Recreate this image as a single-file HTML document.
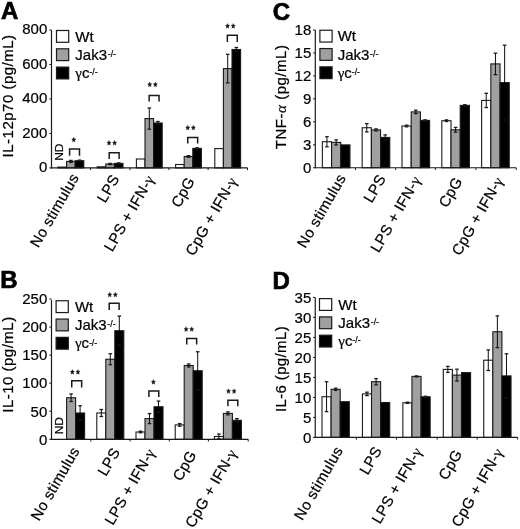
<!DOCTYPE html>
<html><head><meta charset="utf-8"><style>
html,body{margin:0;padding:0;background:#fff;width:520px;height:529px;overflow:hidden}
svg{display:block;filter:blur(0.3px)}
text{font-family:"Liberation Sans",sans-serif;fill:#000;stroke:#000;stroke-width:0.22px}
</style></head><body>
<svg width="520" height="529" viewBox="0 0 520 529">
<text transform="translate(1.00,18.80)" font-size="24" font-weight="bold" style="stroke-width:0.7px">A</text>
<rect x="58.00" y="167.10" width="8.60" height="0.80" fill="#ffffff" stroke="#1a1a1a" stroke-width="1.1"/>
<rect x="66.60" y="161.40" width="8.60" height="6.50" fill="#a0a0a0" stroke="#1a1a1a" stroke-width="1.1"/>
<rect x="75.20" y="160.70" width="8.60" height="7.20" fill="#000000" stroke="#1a1a1a" stroke-width="1.1"/>
<rect x="97.20" y="166.80" width="8.60" height="1.10" fill="#ffffff" stroke="#1a1a1a" stroke-width="1.1"/>
<rect x="105.80" y="164.00" width="8.60" height="3.90" fill="#a0a0a0" stroke="#1a1a1a" stroke-width="1.1"/>
<rect x="114.40" y="163.40" width="8.60" height="4.50" fill="#000000" stroke="#1a1a1a" stroke-width="1.1"/>
<rect x="136.40" y="159.00" width="8.60" height="8.90" fill="#ffffff" stroke="#1a1a1a" stroke-width="1.1"/>
<rect x="145.00" y="118.60" width="8.60" height="49.30" fill="#a0a0a0" stroke="#1a1a1a" stroke-width="1.1"/>
<rect x="153.60" y="123.00" width="8.60" height="44.90" fill="#000000" stroke="#1a1a1a" stroke-width="1.1"/>
<rect x="175.60" y="164.50" width="8.60" height="3.40" fill="#ffffff" stroke="#1a1a1a" stroke-width="1.1"/>
<rect x="184.20" y="156.50" width="8.60" height="11.40" fill="#a0a0a0" stroke="#1a1a1a" stroke-width="1.1"/>
<rect x="192.80" y="148.40" width="8.60" height="19.50" fill="#000000" stroke="#1a1a1a" stroke-width="1.1"/>
<rect x="214.80" y="148.60" width="8.60" height="19.30" fill="#ffffff" stroke="#1a1a1a" stroke-width="1.1"/>
<rect x="223.40" y="68.60" width="8.60" height="99.30" fill="#a0a0a0" stroke="#1a1a1a" stroke-width="1.1"/>
<rect x="232.00" y="49.50" width="8.60" height="118.40" fill="#000000" stroke="#1a1a1a" stroke-width="1.1"/>
<line x1="70.90" y1="160.40" x2="70.90" y2="162.40" stroke="#000" stroke-width="0.95"/>
<line x1="69.10" y1="160.40" x2="72.70" y2="160.40" stroke="#1a1a1a" stroke-width="1.3"/>
<line x1="69.10" y1="162.40" x2="72.70" y2="162.40" stroke="#1a1a1a" stroke-width="1.3"/>
<line x1="79.50" y1="160.10" x2="79.50" y2="161.30" stroke="#000" stroke-width="0.95"/>
<line x1="77.70" y1="160.10" x2="81.30" y2="160.10" stroke="#1a1a1a" stroke-width="1.3"/>
<line x1="77.70" y1="161.30" x2="81.30" y2="161.30" stroke="#1a1a1a" stroke-width="1.3"/>
<line x1="110.10" y1="163.40" x2="110.10" y2="164.60" stroke="#000" stroke-width="0.95"/>
<line x1="108.30" y1="163.40" x2="111.90" y2="163.40" stroke="#1a1a1a" stroke-width="1.3"/>
<line x1="108.30" y1="164.60" x2="111.90" y2="164.60" stroke="#1a1a1a" stroke-width="1.3"/>
<line x1="118.70" y1="162.90" x2="118.70" y2="163.90" stroke="#000" stroke-width="0.95"/>
<line x1="116.90" y1="162.90" x2="120.50" y2="162.90" stroke="#1a1a1a" stroke-width="1.3"/>
<line x1="116.90" y1="163.90" x2="120.50" y2="163.90" stroke="#1a1a1a" stroke-width="1.3"/>
<line x1="149.30" y1="108.00" x2="149.30" y2="129.20" stroke="#000" stroke-width="0.95"/>
<line x1="147.50" y1="108.00" x2="151.10" y2="108.00" stroke="#1a1a1a" stroke-width="1.3"/>
<line x1="147.50" y1="129.20" x2="151.10" y2="129.20" stroke="#1a1a1a" stroke-width="1.3"/>
<line x1="157.90" y1="121.50" x2="157.90" y2="124.50" stroke="#000" stroke-width="0.95"/>
<line x1="156.10" y1="121.50" x2="159.70" y2="121.50" stroke="#1a1a1a" stroke-width="1.3"/>
<line x1="156.10" y1="124.50" x2="159.70" y2="124.50" stroke="#1a1a1a" stroke-width="1.3"/>
<line x1="188.50" y1="155.70" x2="188.50" y2="157.30" stroke="#000" stroke-width="0.95"/>
<line x1="186.70" y1="155.70" x2="190.30" y2="155.70" stroke="#1a1a1a" stroke-width="1.3"/>
<line x1="186.70" y1="157.30" x2="190.30" y2="157.30" stroke="#1a1a1a" stroke-width="1.3"/>
<line x1="197.10" y1="147.80" x2="197.10" y2="149.00" stroke="#000" stroke-width="0.95"/>
<line x1="195.30" y1="147.80" x2="198.90" y2="147.80" stroke="#1a1a1a" stroke-width="1.3"/>
<line x1="195.30" y1="149.00" x2="198.90" y2="149.00" stroke="#1a1a1a" stroke-width="1.3"/>
<line x1="227.70" y1="54.30" x2="227.70" y2="82.90" stroke="#000" stroke-width="0.95"/>
<line x1="225.90" y1="54.30" x2="229.50" y2="54.30" stroke="#1a1a1a" stroke-width="1.3"/>
<line x1="225.90" y1="82.90" x2="229.50" y2="82.90" stroke="#1a1a1a" stroke-width="1.3"/>
<line x1="236.30" y1="47.50" x2="236.30" y2="51.50" stroke="#000" stroke-width="0.95"/>
<line x1="234.50" y1="47.50" x2="238.10" y2="47.50" stroke="#1a1a1a" stroke-width="1.3"/>
<line x1="234.50" y1="51.50" x2="238.10" y2="51.50" stroke="#1a1a1a" stroke-width="1.3"/>
<line x1="51.50" y1="30.00" x2="51.50" y2="168.50" stroke="#1a1a1a" stroke-width="1.2"/>
<line x1="50.90" y1="167.90" x2="247.50" y2="167.90" stroke="#1a1a1a" stroke-width="1.2"/>
<line x1="90.60" y1="167.90" x2="90.60" y2="170.10" stroke="#1a1a1a" stroke-width="1"/>
<line x1="130.00" y1="167.90" x2="130.00" y2="170.10" stroke="#1a1a1a" stroke-width="1"/>
<line x1="168.90" y1="167.90" x2="168.90" y2="170.10" stroke="#1a1a1a" stroke-width="1"/>
<line x1="208.10" y1="167.90" x2="208.10" y2="170.10" stroke="#1a1a1a" stroke-width="1"/>
<line x1="247.50" y1="167.90" x2="247.50" y2="170.10" stroke="#1a1a1a" stroke-width="1"/>
<line x1="49.30" y1="30.00" x2="51.50" y2="30.00" stroke="#1a1a1a" stroke-width="1"/>
<text transform="translate(47.30,34.10)" font-size="15" text-anchor="end">800</text>
<line x1="49.30" y1="64.48" x2="51.50" y2="64.48" stroke="#1a1a1a" stroke-width="1"/>
<text transform="translate(47.30,68.58)" font-size="15" text-anchor="end">600</text>
<line x1="49.30" y1="98.95" x2="51.50" y2="98.95" stroke="#1a1a1a" stroke-width="1"/>
<text transform="translate(47.30,103.05)" font-size="15" text-anchor="end">400</text>
<line x1="49.30" y1="133.43" x2="51.50" y2="133.43" stroke="#1a1a1a" stroke-width="1"/>
<text transform="translate(47.30,137.53)" font-size="15" text-anchor="end">200</text>
<line x1="49.30" y1="167.90" x2="51.50" y2="167.90" stroke="#1a1a1a" stroke-width="1"/>
<text transform="translate(47.30,172.00)" font-size="15" text-anchor="end">0</text>
<text transform="translate(13.20,157.40) rotate(-90)" font-size="15" letter-spacing="0.49">IL-12p70 (pg/mL)</text>
<rect x="56.50" y="30.50" width="12.2" height="11.8" fill="#ffffff" stroke="#1a1a1a" stroke-width="1.2"/>
<text transform="translate(75.30,41.60)" font-size="15">Wt</text>
<rect x="56.50" y="48.80" width="12.2" height="11.8" fill="#a0a0a0" stroke="#1a1a1a" stroke-width="1.2"/>
<text transform="translate(75.30,59.90)" font-size="15">Jak3</text>
<text transform="translate(107.70,57.00)" font-size="8.8">-/-</text>
<rect x="56.50" y="67.10" width="12.2" height="11.8" fill="#000000" stroke="#1a1a1a" stroke-width="1.2"/>
<text transform="translate(75.30,78.20)" font-size="15"><tspan style="font-family:&quot;Liberation Serif&quot;,serif">γ</tspan>c</text>
<text transform="translate(89.30,75.30)" font-size="8.8">-/-</text>
<path d="M69.60,155.70 V149.10 H79.50 V155.70" fill="none" stroke="#1a1a1a" stroke-width="1.5"/>
<polygon points="73.80,137.15 74.46,138.73 75.94,138.98 74.87,140.21 75.12,141.94 73.80,141.12 72.48,141.94 72.73,140.21 71.66,138.98 73.14,138.73" fill="#1a1a1a" stroke="#1a1a1a" stroke-width="0.3"/>
<path d="M109.20,159.10 V152.80 H119.10 V159.10" fill="none" stroke="#1a1a1a" stroke-width="1.5"/>
<polygon points="109.00,140.35 109.66,141.93 111.14,142.18 110.07,143.41 110.32,145.14 109.00,144.32 107.68,145.14 107.93,143.41 106.86,142.18 108.34,141.93" fill="#1a1a1a" stroke="#1a1a1a" stroke-width="0.3"/>
<polygon points="114.60,140.35 115.26,141.93 116.74,142.18 115.67,143.41 115.92,145.14 114.60,144.32 113.28,145.14 113.53,143.41 112.46,142.18 113.94,141.93" fill="#1a1a1a" stroke="#1a1a1a" stroke-width="0.3"/>
<path d="M149.15,101.50 V95.50 H159.05 V101.50" fill="none" stroke="#1a1a1a" stroke-width="1.5"/>
<polygon points="149.75,82.00 150.41,83.58 151.89,83.83 150.82,85.06 151.07,86.79 149.75,85.97 148.43,86.79 148.68,85.06 147.61,83.83 149.09,83.58" fill="#1a1a1a" stroke="#1a1a1a" stroke-width="0.3"/>
<polygon points="155.35,82.00 156.01,83.58 157.49,83.83 156.42,85.06 156.67,86.79 155.35,85.97 154.03,86.79 154.28,85.06 153.21,83.83 154.69,83.58" fill="#1a1a1a" stroke="#1a1a1a" stroke-width="0.3"/>
<path d="M187.75,143.40 V137.40 H197.65 V143.40" fill="none" stroke="#1a1a1a" stroke-width="1.5"/>
<polygon points="187.75,125.15 188.41,126.73 189.89,126.98 188.82,128.21 189.07,129.94 187.75,129.12 186.43,129.94 186.68,128.21 185.61,126.98 187.09,126.73" fill="#1a1a1a" stroke="#1a1a1a" stroke-width="0.3"/>
<polygon points="193.35,125.15 194.01,126.73 195.49,126.98 194.42,128.21 194.67,129.94 193.35,129.12 192.03,129.94 192.28,128.21 191.21,126.98 192.69,126.73" fill="#1a1a1a" stroke="#1a1a1a" stroke-width="0.3"/>
<path d="M227.35,41.95 V35.25 H237.25 V41.95" fill="none" stroke="#1a1a1a" stroke-width="1.5"/>
<polygon points="227.60,23.45 228.26,25.03 229.74,25.28 228.67,26.51 228.92,28.24 227.60,27.43 226.28,28.24 226.53,26.51 225.46,25.28 226.94,25.03" fill="#1a1a1a" stroke="#1a1a1a" stroke-width="0.3"/>
<polygon points="233.20,23.45 233.86,25.03 235.34,25.28 234.27,26.51 234.52,28.24 233.20,27.43 231.88,28.24 232.13,26.51 231.06,25.28 232.54,25.03" fill="#1a1a1a" stroke="#1a1a1a" stroke-width="0.3"/>
<text transform="translate(62.70,160.80) rotate(-90) scale(1,0.88)" font-size="12">ND</text>
<text transform="translate(38.30,248.50) rotate(-60)" font-size="15" letter-spacing="0.35">No stimulus</text>
<text transform="translate(105.30,203.80) rotate(-60)" font-size="15" letter-spacing="0.35">LPS</text>
<text transform="translate(112.30,252.60) rotate(-60)" font-size="15" letter-spacing="0.35">LPS + IFN-<tspan style="font-family:&quot;Liberation Serif&quot;,serif">γ</tspan></text>
<text transform="translate(179.40,208.40) rotate(-60)" font-size="15" letter-spacing="0.35">CpG</text>
<text transform="translate(193.80,256.70) rotate(-60)" font-size="15" letter-spacing="0.35">CpG + IFN-<tspan style="font-family:&quot;Liberation Serif&quot;,serif">γ</tspan></text>
<text transform="translate(0.30,288.10)" font-size="24" font-weight="bold" style="stroke-width:0.7px">B</text>
<rect x="66.60" y="397.75" width="9.00" height="41.55" fill="#a0a0a0" stroke="#1a1a1a" stroke-width="1.1"/>
<rect x="75.60" y="413.00" width="9.00" height="26.30" fill="#000000" stroke="#1a1a1a" stroke-width="1.1"/>
<rect x="96.80" y="413.00" width="9.00" height="26.30" fill="#ffffff" stroke="#1a1a1a" stroke-width="1.1"/>
<rect x="105.80" y="359.25" width="9.00" height="80.05" fill="#a0a0a0" stroke="#1a1a1a" stroke-width="1.1"/>
<rect x="114.80" y="330.75" width="9.00" height="108.55" fill="#000000" stroke="#1a1a1a" stroke-width="1.1"/>
<rect x="136.00" y="432.00" width="9.00" height="7.30" fill="#ffffff" stroke="#1a1a1a" stroke-width="1.1"/>
<rect x="145.00" y="418.60" width="9.00" height="20.70" fill="#a0a0a0" stroke="#1a1a1a" stroke-width="1.1"/>
<rect x="154.00" y="406.75" width="9.00" height="32.55" fill="#000000" stroke="#1a1a1a" stroke-width="1.1"/>
<rect x="175.20" y="424.90" width="9.00" height="14.40" fill="#ffffff" stroke="#1a1a1a" stroke-width="1.1"/>
<rect x="184.20" y="365.50" width="9.00" height="73.80" fill="#a0a0a0" stroke="#1a1a1a" stroke-width="1.1"/>
<rect x="193.20" y="370.75" width="9.00" height="68.55" fill="#000000" stroke="#1a1a1a" stroke-width="1.1"/>
<rect x="214.40" y="436.50" width="9.00" height="2.80" fill="#ffffff" stroke="#1a1a1a" stroke-width="1.1"/>
<rect x="223.40" y="413.40" width="9.00" height="25.90" fill="#a0a0a0" stroke="#1a1a1a" stroke-width="1.1"/>
<rect x="232.40" y="420.30" width="9.00" height="19.00" fill="#000000" stroke="#1a1a1a" stroke-width="1.1"/>
<line x1="71.10" y1="394.00" x2="71.10" y2="401.50" stroke="#000" stroke-width="0.95"/>
<line x1="69.30" y1="394.00" x2="72.90" y2="394.00" stroke="#1a1a1a" stroke-width="1.3"/>
<line x1="69.30" y1="401.50" x2="72.90" y2="401.50" stroke="#1a1a1a" stroke-width="1.3"/>
<line x1="80.10" y1="405.75" x2="80.10" y2="420.25" stroke="#000" stroke-width="0.95"/>
<line x1="78.30" y1="405.75" x2="81.90" y2="405.75" stroke="#1a1a1a" stroke-width="1.3"/>
<line x1="78.30" y1="420.25" x2="81.90" y2="420.25" stroke="#1a1a1a" stroke-width="1.3"/>
<line x1="101.30" y1="409.50" x2="101.30" y2="416.50" stroke="#000" stroke-width="0.95"/>
<line x1="99.50" y1="409.50" x2="103.10" y2="409.50" stroke="#1a1a1a" stroke-width="1.3"/>
<line x1="99.50" y1="416.50" x2="103.10" y2="416.50" stroke="#1a1a1a" stroke-width="1.3"/>
<line x1="110.30" y1="353.75" x2="110.30" y2="364.75" stroke="#000" stroke-width="0.95"/>
<line x1="108.50" y1="353.75" x2="112.10" y2="353.75" stroke="#1a1a1a" stroke-width="1.3"/>
<line x1="108.50" y1="364.75" x2="112.10" y2="364.75" stroke="#1a1a1a" stroke-width="1.3"/>
<line x1="119.30" y1="316.10" x2="119.30" y2="345.40" stroke="#000" stroke-width="0.95"/>
<line x1="117.50" y1="316.10" x2="121.10" y2="316.10" stroke="#1a1a1a" stroke-width="1.3"/>
<line x1="117.50" y1="345.40" x2="121.10" y2="345.40" stroke="#1a1a1a" stroke-width="1.3"/>
<line x1="140.50" y1="431.20" x2="140.50" y2="432.80" stroke="#000" stroke-width="0.95"/>
<line x1="138.70" y1="431.20" x2="142.30" y2="431.20" stroke="#1a1a1a" stroke-width="1.3"/>
<line x1="138.70" y1="432.80" x2="142.30" y2="432.80" stroke="#1a1a1a" stroke-width="1.3"/>
<line x1="149.50" y1="413.60" x2="149.50" y2="423.60" stroke="#000" stroke-width="0.95"/>
<line x1="147.70" y1="413.60" x2="151.30" y2="413.60" stroke="#1a1a1a" stroke-width="1.3"/>
<line x1="147.70" y1="423.60" x2="151.30" y2="423.60" stroke="#1a1a1a" stroke-width="1.3"/>
<line x1="158.50" y1="401.10" x2="158.50" y2="412.40" stroke="#000" stroke-width="0.95"/>
<line x1="156.70" y1="401.10" x2="160.30" y2="401.10" stroke="#1a1a1a" stroke-width="1.3"/>
<line x1="156.70" y1="412.40" x2="160.30" y2="412.40" stroke="#1a1a1a" stroke-width="1.3"/>
<line x1="179.70" y1="423.60" x2="179.70" y2="426.20" stroke="#000" stroke-width="0.95"/>
<line x1="177.90" y1="423.60" x2="181.50" y2="423.60" stroke="#1a1a1a" stroke-width="1.3"/>
<line x1="177.90" y1="426.20" x2="181.50" y2="426.20" stroke="#1a1a1a" stroke-width="1.3"/>
<line x1="188.70" y1="364.00" x2="188.70" y2="367.00" stroke="#000" stroke-width="0.95"/>
<line x1="186.90" y1="364.00" x2="190.50" y2="364.00" stroke="#1a1a1a" stroke-width="1.3"/>
<line x1="186.90" y1="367.00" x2="190.50" y2="367.00" stroke="#1a1a1a" stroke-width="1.3"/>
<line x1="197.70" y1="351.75" x2="197.70" y2="389.75" stroke="#000" stroke-width="0.95"/>
<line x1="195.90" y1="351.75" x2="199.50" y2="351.75" stroke="#1a1a1a" stroke-width="1.3"/>
<line x1="195.90" y1="389.75" x2="199.50" y2="389.75" stroke="#1a1a1a" stroke-width="1.3"/>
<line x1="218.90" y1="434.10" x2="218.90" y2="438.90" stroke="#000" stroke-width="0.95"/>
<line x1="217.10" y1="434.10" x2="220.70" y2="434.10" stroke="#1a1a1a" stroke-width="1.3"/>
<line x1="217.10" y1="438.90" x2="220.70" y2="438.90" stroke="#1a1a1a" stroke-width="1.3"/>
<line x1="227.90" y1="411.90" x2="227.90" y2="414.90" stroke="#000" stroke-width="0.95"/>
<line x1="226.10" y1="411.90" x2="229.70" y2="411.90" stroke="#1a1a1a" stroke-width="1.3"/>
<line x1="226.10" y1="414.90" x2="229.70" y2="414.90" stroke="#1a1a1a" stroke-width="1.3"/>
<line x1="236.90" y1="418.60" x2="236.90" y2="422.00" stroke="#000" stroke-width="0.95"/>
<line x1="235.10" y1="418.60" x2="238.70" y2="418.60" stroke="#1a1a1a" stroke-width="1.3"/>
<line x1="235.10" y1="422.00" x2="238.70" y2="422.00" stroke="#1a1a1a" stroke-width="1.3"/>
<line x1="51.50" y1="299.80" x2="51.50" y2="439.90" stroke="#1a1a1a" stroke-width="1.2"/>
<line x1="50.90" y1="439.30" x2="248.20" y2="439.30" stroke="#1a1a1a" stroke-width="1.2"/>
<line x1="90.80" y1="439.30" x2="90.80" y2="441.50" stroke="#1a1a1a" stroke-width="1"/>
<line x1="130.10" y1="439.30" x2="130.10" y2="441.50" stroke="#1a1a1a" stroke-width="1"/>
<line x1="169.30" y1="439.30" x2="169.30" y2="441.50" stroke="#1a1a1a" stroke-width="1"/>
<line x1="208.40" y1="439.30" x2="208.40" y2="441.50" stroke="#1a1a1a" stroke-width="1"/>
<line x1="248.20" y1="439.30" x2="248.20" y2="441.50" stroke="#1a1a1a" stroke-width="1"/>
<line x1="49.30" y1="299.00" x2="51.50" y2="299.00" stroke="#1a1a1a" stroke-width="1"/>
<text transform="translate(47.30,304.30)" font-size="15" text-anchor="end">250</text>
<line x1="49.30" y1="327.06" x2="51.50" y2="327.06" stroke="#1a1a1a" stroke-width="1"/>
<text transform="translate(47.30,332.36)" font-size="15" text-anchor="end">200</text>
<line x1="49.30" y1="355.12" x2="51.50" y2="355.12" stroke="#1a1a1a" stroke-width="1"/>
<text transform="translate(47.30,360.42)" font-size="15" text-anchor="end">150</text>
<line x1="49.30" y1="383.18" x2="51.50" y2="383.18" stroke="#1a1a1a" stroke-width="1"/>
<text transform="translate(47.30,388.48)" font-size="15" text-anchor="end">100</text>
<line x1="49.30" y1="411.24" x2="51.50" y2="411.24" stroke="#1a1a1a" stroke-width="1"/>
<text transform="translate(47.30,416.54)" font-size="15" text-anchor="end">50</text>
<line x1="49.30" y1="439.30" x2="51.50" y2="439.30" stroke="#1a1a1a" stroke-width="1"/>
<text transform="translate(47.30,444.60)" font-size="15" text-anchor="end">0</text>
<text transform="translate(13.20,412.70) rotate(-90)" font-size="15" letter-spacing="0.485">IL-10 (pg/mL)</text>
<rect x="56.10" y="300.75" width="12.2" height="11.8" fill="#ffffff" stroke="#1a1a1a" stroke-width="1.2"/>
<text transform="translate(74.90,311.85)" font-size="15">Wt</text>
<rect x="56.10" y="319.05" width="12.2" height="11.8" fill="#a0a0a0" stroke="#1a1a1a" stroke-width="1.2"/>
<text transform="translate(74.90,330.15)" font-size="15">Jak3</text>
<text transform="translate(107.30,327.25)" font-size="8.8">-/-</text>
<rect x="56.10" y="337.35" width="12.2" height="11.8" fill="#000000" stroke="#1a1a1a" stroke-width="1.2"/>
<text transform="translate(74.90,348.45)" font-size="15"><tspan style="font-family:&quot;Liberation Serif&quot;,serif">γ</tspan>c</text>
<text transform="translate(88.90,345.55)" font-size="8.8">-/-</text>
<path d="M71.75,387.40 V380.80 H81.65 V387.40" fill="none" stroke="#1a1a1a" stroke-width="1.5"/>
<polygon points="72.35,369.45 73.01,371.03 74.49,371.28 73.42,372.51 73.67,374.24 72.35,373.43 71.03,374.24 71.28,372.51 70.21,371.28 71.69,371.03" fill="#1a1a1a" stroke="#1a1a1a" stroke-width="0.3"/>
<polygon points="77.95,369.45 78.61,371.03 80.09,371.28 79.02,372.51 79.27,374.24 77.95,373.43 76.63,374.24 76.88,372.51 75.81,371.28 77.29,371.03" fill="#1a1a1a" stroke="#1a1a1a" stroke-width="0.3"/>
<path d="M109.20,310.10 V303.20 H119.10 V310.10" fill="none" stroke="#1a1a1a" stroke-width="1.5"/>
<polygon points="109.75,292.15 110.41,293.73 111.89,293.98 110.82,295.21 111.07,296.94 109.75,296.12 108.43,296.94 108.68,295.21 107.61,293.98 109.09,293.73" fill="#1a1a1a" stroke="#1a1a1a" stroke-width="0.3"/>
<polygon points="115.35,292.15 116.01,293.73 117.49,293.98 116.42,295.21 116.67,296.94 115.35,296.12 114.03,296.94 114.28,295.21 113.21,293.98 114.69,293.73" fill="#1a1a1a" stroke="#1a1a1a" stroke-width="0.3"/>
<path d="M148.90,397.10 V391.10 H158.80 V397.10" fill="none" stroke="#1a1a1a" stroke-width="1.5"/>
<polygon points="153.40,379.45 154.06,381.03 155.54,381.28 154.47,382.51 154.72,384.24 153.40,383.43 152.08,384.24 152.33,382.51 151.26,381.28 152.74,381.03" fill="#1a1a1a" stroke="#1a1a1a" stroke-width="0.3"/>
<path d="M186.75,344.50 V338.50 H196.65 V344.50" fill="none" stroke="#1a1a1a" stroke-width="1.5"/>
<polygon points="186.10,326.65 186.76,328.23 188.24,328.48 187.17,329.71 187.42,331.44 186.10,330.62 184.78,331.44 185.03,329.71 183.96,328.48 185.44,328.23" fill="#1a1a1a" stroke="#1a1a1a" stroke-width="0.3"/>
<polygon points="191.70,326.65 192.36,328.23 193.84,328.48 192.77,329.71 193.02,331.44 191.70,330.62 190.38,331.44 190.63,329.71 189.56,328.48 191.04,328.23" fill="#1a1a1a" stroke="#1a1a1a" stroke-width="0.3"/>
<path d="M227.90,406.20 V400.20 H237.80 V406.20" fill="none" stroke="#1a1a1a" stroke-width="1.5"/>
<polygon points="228.50,388.65 229.16,390.23 230.64,390.48 229.57,391.71 229.82,393.44 228.50,392.62 227.18,393.44 227.43,391.71 226.36,390.48 227.84,390.23" fill="#1a1a1a" stroke="#1a1a1a" stroke-width="0.3"/>
<polygon points="234.10,388.65 234.76,390.23 236.24,390.48 235.17,391.71 235.42,393.44 234.10,392.62 232.78,393.44 233.03,391.71 231.96,390.48 233.44,390.23" fill="#1a1a1a" stroke="#1a1a1a" stroke-width="0.3"/>
<text transform="translate(63.30,434.30) rotate(-90) scale(1,0.88)" font-size="12">ND</text>
<text transform="translate(39.00,521.80) rotate(-60)" font-size="15" letter-spacing="0.35">No stimulus</text>
<text transform="translate(106.00,477.00) rotate(-60)" font-size="15" letter-spacing="0.35">LPS</text>
<text transform="translate(113.00,526.10) rotate(-60)" font-size="15" letter-spacing="0.35">LPS + IFN-<tspan style="font-family:&quot;Liberation Serif&quot;,serif">γ</tspan></text>
<text transform="translate(181.00,482.00) rotate(-60)" font-size="15" letter-spacing="0.35">CpG</text>
<text transform="translate(193.50,528.70) rotate(-60)" font-size="15" letter-spacing="0.35">CpG + IFN-<tspan style="font-family:&quot;Liberation Serif&quot;,serif">γ</tspan></text>
<text transform="translate(272.80,19.60)" font-size="24" font-weight="bold" style="stroke-width:0.7px">C</text>
<rect x="322.36" y="141.75" width="9.20" height="26.00" fill="#ffffff" stroke="#1a1a1a" stroke-width="1.1"/>
<rect x="331.56" y="142.40" width="9.20" height="25.35" fill="#a0a0a0" stroke="#1a1a1a" stroke-width="1.1"/>
<rect x="340.76" y="144.90" width="9.20" height="22.85" fill="#000000" stroke="#1a1a1a" stroke-width="1.1"/>
<rect x="362.18" y="127.75" width="9.20" height="40.00" fill="#ffffff" stroke="#1a1a1a" stroke-width="1.1"/>
<rect x="371.38" y="129.90" width="9.20" height="37.85" fill="#a0a0a0" stroke="#1a1a1a" stroke-width="1.1"/>
<rect x="380.58" y="137.40" width="9.20" height="30.35" fill="#000000" stroke="#1a1a1a" stroke-width="1.1"/>
<rect x="402.00" y="126.00" width="9.20" height="41.75" fill="#ffffff" stroke="#1a1a1a" stroke-width="1.1"/>
<rect x="411.20" y="111.90" width="9.20" height="55.85" fill="#a0a0a0" stroke="#1a1a1a" stroke-width="1.1"/>
<rect x="420.40" y="120.40" width="9.20" height="47.35" fill="#000000" stroke="#1a1a1a" stroke-width="1.1"/>
<rect x="441.82" y="120.70" width="9.20" height="47.05" fill="#ffffff" stroke="#1a1a1a" stroke-width="1.1"/>
<rect x="451.02" y="129.80" width="9.20" height="37.95" fill="#a0a0a0" stroke="#1a1a1a" stroke-width="1.1"/>
<rect x="460.22" y="105.40" width="9.20" height="62.35" fill="#000000" stroke="#1a1a1a" stroke-width="1.1"/>
<rect x="481.64" y="100.40" width="9.20" height="67.35" fill="#ffffff" stroke="#1a1a1a" stroke-width="1.1"/>
<rect x="490.84" y="63.90" width="9.20" height="103.85" fill="#a0a0a0" stroke="#1a1a1a" stroke-width="1.1"/>
<rect x="500.04" y="82.60" width="9.20" height="85.15" fill="#000000" stroke="#1a1a1a" stroke-width="1.1"/>
<line x1="326.96" y1="136.75" x2="326.96" y2="146.75" stroke="#000" stroke-width="0.95"/>
<line x1="325.16" y1="136.75" x2="328.76" y2="136.75" stroke="#1a1a1a" stroke-width="1.3"/>
<line x1="325.16" y1="146.75" x2="328.76" y2="146.75" stroke="#1a1a1a" stroke-width="1.3"/>
<line x1="336.16" y1="139.90" x2="336.16" y2="144.90" stroke="#000" stroke-width="0.95"/>
<line x1="334.36" y1="139.90" x2="337.96" y2="139.90" stroke="#1a1a1a" stroke-width="1.3"/>
<line x1="334.36" y1="144.90" x2="337.96" y2="144.90" stroke="#1a1a1a" stroke-width="1.3"/>
<line x1="366.78" y1="123.60" x2="366.78" y2="131.90" stroke="#000" stroke-width="0.95"/>
<line x1="364.98" y1="123.60" x2="368.58" y2="123.60" stroke="#1a1a1a" stroke-width="1.3"/>
<line x1="364.98" y1="131.90" x2="368.58" y2="131.90" stroke="#1a1a1a" stroke-width="1.3"/>
<line x1="375.98" y1="128.90" x2="375.98" y2="130.90" stroke="#000" stroke-width="0.95"/>
<line x1="374.18" y1="128.90" x2="377.78" y2="128.90" stroke="#1a1a1a" stroke-width="1.3"/>
<line x1="374.18" y1="130.90" x2="377.78" y2="130.90" stroke="#1a1a1a" stroke-width="1.3"/>
<line x1="385.18" y1="134.90" x2="385.18" y2="139.90" stroke="#000" stroke-width="0.95"/>
<line x1="383.38" y1="134.90" x2="386.98" y2="134.90" stroke="#1a1a1a" stroke-width="1.3"/>
<line x1="383.38" y1="139.90" x2="386.98" y2="139.90" stroke="#1a1a1a" stroke-width="1.3"/>
<line x1="406.60" y1="125.20" x2="406.60" y2="126.80" stroke="#000" stroke-width="0.95"/>
<line x1="404.80" y1="125.20" x2="408.40" y2="125.20" stroke="#1a1a1a" stroke-width="1.3"/>
<line x1="404.80" y1="126.80" x2="408.40" y2="126.80" stroke="#1a1a1a" stroke-width="1.3"/>
<line x1="415.80" y1="110.15" x2="415.80" y2="113.65" stroke="#000" stroke-width="0.95"/>
<line x1="414.00" y1="110.15" x2="417.60" y2="110.15" stroke="#1a1a1a" stroke-width="1.3"/>
<line x1="414.00" y1="113.65" x2="417.60" y2="113.65" stroke="#1a1a1a" stroke-width="1.3"/>
<line x1="425.00" y1="119.80" x2="425.00" y2="121.00" stroke="#000" stroke-width="0.95"/>
<line x1="423.20" y1="119.80" x2="426.80" y2="119.80" stroke="#1a1a1a" stroke-width="1.3"/>
<line x1="423.20" y1="121.00" x2="426.80" y2="121.00" stroke="#1a1a1a" stroke-width="1.3"/>
<line x1="446.42" y1="119.90" x2="446.42" y2="121.50" stroke="#000" stroke-width="0.95"/>
<line x1="444.62" y1="119.90" x2="448.22" y2="119.90" stroke="#1a1a1a" stroke-width="1.3"/>
<line x1="444.62" y1="121.50" x2="448.22" y2="121.50" stroke="#1a1a1a" stroke-width="1.3"/>
<line x1="455.62" y1="127.40" x2="455.62" y2="132.20" stroke="#000" stroke-width="0.95"/>
<line x1="453.82" y1="127.40" x2="457.42" y2="127.40" stroke="#1a1a1a" stroke-width="1.3"/>
<line x1="453.82" y1="132.20" x2="457.42" y2="132.20" stroke="#1a1a1a" stroke-width="1.3"/>
<line x1="464.82" y1="104.70" x2="464.82" y2="106.10" stroke="#000" stroke-width="0.95"/>
<line x1="463.02" y1="104.70" x2="466.62" y2="104.70" stroke="#1a1a1a" stroke-width="1.3"/>
<line x1="463.02" y1="106.10" x2="466.62" y2="106.10" stroke="#1a1a1a" stroke-width="1.3"/>
<line x1="486.24" y1="93.30" x2="486.24" y2="107.50" stroke="#000" stroke-width="0.95"/>
<line x1="484.44" y1="93.30" x2="488.04" y2="93.30" stroke="#1a1a1a" stroke-width="1.3"/>
<line x1="484.44" y1="107.50" x2="488.04" y2="107.50" stroke="#1a1a1a" stroke-width="1.3"/>
<line x1="495.44" y1="53.15" x2="495.44" y2="74.65" stroke="#000" stroke-width="0.95"/>
<line x1="493.64" y1="53.15" x2="497.24" y2="53.15" stroke="#1a1a1a" stroke-width="1.3"/>
<line x1="493.64" y1="74.65" x2="497.24" y2="74.65" stroke="#1a1a1a" stroke-width="1.3"/>
<line x1="504.64" y1="45.20" x2="504.64" y2="120.00" stroke="#000" stroke-width="0.95"/>
<line x1="502.84" y1="45.20" x2="506.44" y2="45.20" stroke="#1a1a1a" stroke-width="1.3"/>
<line x1="502.84" y1="120.00" x2="506.44" y2="120.00" stroke="#1a1a1a" stroke-width="1.3"/>
<line x1="315.30" y1="30.00" x2="315.30" y2="168.35" stroke="#1a1a1a" stroke-width="1.2"/>
<line x1="314.70" y1="167.75" x2="516.20" y2="167.75" stroke="#1a1a1a" stroke-width="1.2"/>
<line x1="355.50" y1="167.75" x2="355.50" y2="169.95" stroke="#1a1a1a" stroke-width="1"/>
<line x1="395.60" y1="167.75" x2="395.60" y2="169.95" stroke="#1a1a1a" stroke-width="1"/>
<line x1="435.40" y1="167.75" x2="435.40" y2="169.95" stroke="#1a1a1a" stroke-width="1"/>
<line x1="475.90" y1="167.75" x2="475.90" y2="169.95" stroke="#1a1a1a" stroke-width="1"/>
<line x1="516.20" y1="167.75" x2="516.20" y2="169.95" stroke="#1a1a1a" stroke-width="1"/>
<line x1="313.10" y1="30.00" x2="315.30" y2="30.00" stroke="#1a1a1a" stroke-width="1"/>
<text transform="translate(311.30,35.30)" font-size="15" text-anchor="end">18</text>
<line x1="313.10" y1="52.96" x2="315.30" y2="52.96" stroke="#1a1a1a" stroke-width="1"/>
<text transform="translate(311.30,58.26)" font-size="15" text-anchor="end">15</text>
<line x1="313.10" y1="75.92" x2="315.30" y2="75.92" stroke="#1a1a1a" stroke-width="1"/>
<text transform="translate(311.30,81.22)" font-size="15" text-anchor="end">12</text>
<line x1="313.10" y1="98.88" x2="315.30" y2="98.88" stroke="#1a1a1a" stroke-width="1"/>
<text transform="translate(311.30,104.17)" font-size="15" text-anchor="end">9</text>
<line x1="313.10" y1="121.83" x2="315.30" y2="121.83" stroke="#1a1a1a" stroke-width="1"/>
<text transform="translate(311.30,127.13)" font-size="15" text-anchor="end">6</text>
<line x1="313.10" y1="144.79" x2="315.30" y2="144.79" stroke="#1a1a1a" stroke-width="1"/>
<text transform="translate(311.30,150.09)" font-size="15" text-anchor="end">3</text>
<line x1="313.10" y1="167.75" x2="315.30" y2="167.75" stroke="#1a1a1a" stroke-width="1"/>
<text transform="translate(311.30,173.05)" font-size="15" text-anchor="end">0</text>
<text transform="translate(285.80,149.20) rotate(-90)" font-size="15" letter-spacing="0.52">TNF-<tspan style="font-family:&quot;Liberation Serif&quot;,serif;font-style:italic">α</tspan> (pg/mL)</text>
<rect x="319.90" y="30.25" width="12.2" height="11.8" fill="#ffffff" stroke="#1a1a1a" stroke-width="1.2"/>
<text transform="translate(337.70,41.35)" font-size="15">Wt</text>
<rect x="319.90" y="48.55" width="12.2" height="11.8" fill="#a0a0a0" stroke="#1a1a1a" stroke-width="1.2"/>
<text transform="translate(337.70,59.65)" font-size="15">Jak3</text>
<text transform="translate(370.10,56.75)" font-size="8.8">-/-</text>
<rect x="319.90" y="66.85" width="12.2" height="11.8" fill="#000000" stroke="#1a1a1a" stroke-width="1.2"/>
<text transform="translate(337.70,77.95)" font-size="15"><tspan style="font-family:&quot;Liberation Serif&quot;,serif">γ</tspan>c</text>
<text transform="translate(351.70,75.05)" font-size="8.8">-/-</text>
<text transform="translate(305.30,249.00) rotate(-60)" font-size="15" letter-spacing="0.35">No stimulus</text>
<text transform="translate(371.80,203.70) rotate(-60)" font-size="15" letter-spacing="0.35">LPS</text>
<text transform="translate(378.70,253.50) rotate(-60)" font-size="15" letter-spacing="0.35">LPS + IFN-<tspan style="font-family:&quot;Liberation Serif&quot;,serif">γ</tspan></text>
<text transform="translate(447.00,208.50) rotate(-60)" font-size="15" letter-spacing="0.35">CpG</text>
<text transform="translate(460.00,256.50) rotate(-60)" font-size="15" letter-spacing="0.35">CpG + IFN-<tspan style="font-family:&quot;Liberation Serif&quot;,serif">γ</tspan></text>
<text transform="translate(272.40,288.50)" font-size="24" font-weight="bold" style="stroke-width:0.7px">D</text>
<rect x="322.00" y="396.70" width="9.10" height="40.70" fill="#ffffff" stroke="#1a1a1a" stroke-width="1.1"/>
<rect x="331.10" y="389.30" width="9.10" height="48.10" fill="#a0a0a0" stroke="#1a1a1a" stroke-width="1.1"/>
<rect x="340.20" y="401.70" width="9.10" height="35.70" fill="#000000" stroke="#1a1a1a" stroke-width="1.1"/>
<rect x="362.43" y="393.90" width="9.10" height="43.50" fill="#ffffff" stroke="#1a1a1a" stroke-width="1.1"/>
<rect x="371.53" y="381.70" width="9.10" height="55.70" fill="#a0a0a0" stroke="#1a1a1a" stroke-width="1.1"/>
<rect x="380.63" y="402.50" width="9.10" height="34.90" fill="#000000" stroke="#1a1a1a" stroke-width="1.1"/>
<rect x="402.86" y="402.80" width="9.10" height="34.60" fill="#ffffff" stroke="#1a1a1a" stroke-width="1.1"/>
<rect x="411.96" y="376.40" width="9.10" height="61.00" fill="#a0a0a0" stroke="#1a1a1a" stroke-width="1.1"/>
<rect x="421.06" y="396.80" width="9.10" height="40.60" fill="#000000" stroke="#1a1a1a" stroke-width="1.1"/>
<rect x="443.29" y="369.40" width="9.10" height="68.00" fill="#ffffff" stroke="#1a1a1a" stroke-width="1.1"/>
<rect x="452.39" y="375.10" width="9.10" height="62.30" fill="#a0a0a0" stroke="#1a1a1a" stroke-width="1.1"/>
<rect x="461.49" y="372.60" width="9.10" height="64.80" fill="#000000" stroke="#1a1a1a" stroke-width="1.1"/>
<rect x="483.72" y="360.20" width="9.10" height="77.20" fill="#ffffff" stroke="#1a1a1a" stroke-width="1.1"/>
<rect x="492.82" y="331.75" width="9.10" height="105.65" fill="#a0a0a0" stroke="#1a1a1a" stroke-width="1.1"/>
<rect x="501.92" y="375.90" width="9.10" height="61.50" fill="#000000" stroke="#1a1a1a" stroke-width="1.1"/>
<line x1="326.55" y1="381.80" x2="326.55" y2="411.60" stroke="#000" stroke-width="0.95"/>
<line x1="324.75" y1="381.80" x2="328.35" y2="381.80" stroke="#1a1a1a" stroke-width="1.3"/>
<line x1="324.75" y1="411.60" x2="328.35" y2="411.60" stroke="#1a1a1a" stroke-width="1.3"/>
<line x1="335.65" y1="388.20" x2="335.65" y2="390.40" stroke="#000" stroke-width="0.95"/>
<line x1="333.85" y1="388.20" x2="337.45" y2="388.20" stroke="#1a1a1a" stroke-width="1.3"/>
<line x1="333.85" y1="390.40" x2="337.45" y2="390.40" stroke="#1a1a1a" stroke-width="1.3"/>
<line x1="366.98" y1="392.20" x2="366.98" y2="395.60" stroke="#000" stroke-width="0.95"/>
<line x1="365.18" y1="392.20" x2="368.78" y2="392.20" stroke="#1a1a1a" stroke-width="1.3"/>
<line x1="365.18" y1="395.60" x2="368.78" y2="395.60" stroke="#1a1a1a" stroke-width="1.3"/>
<line x1="376.08" y1="378.60" x2="376.08" y2="384.80" stroke="#000" stroke-width="0.95"/>
<line x1="374.28" y1="378.60" x2="377.88" y2="378.60" stroke="#1a1a1a" stroke-width="1.3"/>
<line x1="374.28" y1="384.80" x2="377.88" y2="384.80" stroke="#1a1a1a" stroke-width="1.3"/>
<line x1="407.41" y1="402.20" x2="407.41" y2="403.40" stroke="#000" stroke-width="0.95"/>
<line x1="405.61" y1="402.20" x2="409.21" y2="402.20" stroke="#1a1a1a" stroke-width="1.3"/>
<line x1="405.61" y1="403.40" x2="409.21" y2="403.40" stroke="#1a1a1a" stroke-width="1.3"/>
<line x1="416.51" y1="375.90" x2="416.51" y2="376.90" stroke="#000" stroke-width="0.95"/>
<line x1="414.71" y1="375.90" x2="418.31" y2="375.90" stroke="#1a1a1a" stroke-width="1.3"/>
<line x1="414.71" y1="376.90" x2="418.31" y2="376.90" stroke="#1a1a1a" stroke-width="1.3"/>
<line x1="425.61" y1="396.30" x2="425.61" y2="397.30" stroke="#000" stroke-width="0.95"/>
<line x1="423.81" y1="396.30" x2="427.41" y2="396.30" stroke="#1a1a1a" stroke-width="1.3"/>
<line x1="423.81" y1="397.30" x2="427.41" y2="397.30" stroke="#1a1a1a" stroke-width="1.3"/>
<line x1="447.84" y1="366.40" x2="447.84" y2="372.40" stroke="#000" stroke-width="0.95"/>
<line x1="446.04" y1="366.40" x2="449.64" y2="366.40" stroke="#1a1a1a" stroke-width="1.3"/>
<line x1="446.04" y1="372.40" x2="449.64" y2="372.40" stroke="#1a1a1a" stroke-width="1.3"/>
<line x1="456.94" y1="369.20" x2="456.94" y2="381.00" stroke="#000" stroke-width="0.95"/>
<line x1="455.14" y1="369.20" x2="458.74" y2="369.20" stroke="#1a1a1a" stroke-width="1.3"/>
<line x1="455.14" y1="381.00" x2="458.74" y2="381.00" stroke="#1a1a1a" stroke-width="1.3"/>
<line x1="488.27" y1="349.90" x2="488.27" y2="370.50" stroke="#000" stroke-width="0.95"/>
<line x1="486.47" y1="349.90" x2="490.07" y2="349.90" stroke="#1a1a1a" stroke-width="1.3"/>
<line x1="486.47" y1="370.50" x2="490.07" y2="370.50" stroke="#1a1a1a" stroke-width="1.3"/>
<line x1="497.37" y1="315.90" x2="497.37" y2="347.60" stroke="#000" stroke-width="0.95"/>
<line x1="495.57" y1="315.90" x2="499.17" y2="315.90" stroke="#1a1a1a" stroke-width="1.3"/>
<line x1="495.57" y1="347.60" x2="499.17" y2="347.60" stroke="#1a1a1a" stroke-width="1.3"/>
<line x1="506.47" y1="353.80" x2="506.47" y2="398.00" stroke="#000" stroke-width="0.95"/>
<line x1="504.67" y1="353.80" x2="508.27" y2="353.80" stroke="#1a1a1a" stroke-width="1.3"/>
<line x1="504.67" y1="398.00" x2="508.27" y2="398.00" stroke="#1a1a1a" stroke-width="1.3"/>
<line x1="315.25" y1="297.50" x2="315.25" y2="438.00" stroke="#1a1a1a" stroke-width="1.2"/>
<line x1="314.65" y1="437.40" x2="517.60" y2="437.40" stroke="#1a1a1a" stroke-width="1.2"/>
<line x1="356.30" y1="437.40" x2="356.30" y2="439.60" stroke="#1a1a1a" stroke-width="1"/>
<line x1="396.50" y1="437.40" x2="396.50" y2="439.60" stroke="#1a1a1a" stroke-width="1"/>
<line x1="437.20" y1="437.40" x2="437.20" y2="439.60" stroke="#1a1a1a" stroke-width="1"/>
<line x1="477.20" y1="437.40" x2="477.20" y2="439.60" stroke="#1a1a1a" stroke-width="1"/>
<line x1="517.60" y1="437.40" x2="517.60" y2="439.60" stroke="#1a1a1a" stroke-width="1"/>
<line x1="313.05" y1="297.40" x2="315.25" y2="297.40" stroke="#1a1a1a" stroke-width="1"/>
<text transform="translate(311.30,302.70)" font-size="15" text-anchor="end">35</text>
<line x1="313.05" y1="317.40" x2="315.25" y2="317.40" stroke="#1a1a1a" stroke-width="1"/>
<text transform="translate(311.30,322.70)" font-size="15" text-anchor="end">30</text>
<line x1="313.05" y1="337.40" x2="315.25" y2="337.40" stroke="#1a1a1a" stroke-width="1"/>
<text transform="translate(311.30,342.70)" font-size="15" text-anchor="end">25</text>
<line x1="313.05" y1="357.40" x2="315.25" y2="357.40" stroke="#1a1a1a" stroke-width="1"/>
<text transform="translate(311.30,362.70)" font-size="15" text-anchor="end">20</text>
<line x1="313.05" y1="377.40" x2="315.25" y2="377.40" stroke="#1a1a1a" stroke-width="1"/>
<text transform="translate(311.30,382.70)" font-size="15" text-anchor="end">15</text>
<line x1="313.05" y1="397.40" x2="315.25" y2="397.40" stroke="#1a1a1a" stroke-width="1"/>
<text transform="translate(311.30,402.70)" font-size="15" text-anchor="end">10</text>
<line x1="313.05" y1="417.40" x2="315.25" y2="417.40" stroke="#1a1a1a" stroke-width="1"/>
<text transform="translate(311.30,422.70)" font-size="15" text-anchor="end">5</text>
<line x1="313.05" y1="437.40" x2="315.25" y2="437.40" stroke="#1a1a1a" stroke-width="1"/>
<text transform="translate(311.30,442.70)" font-size="15" text-anchor="end">0</text>
<text transform="translate(285.80,412.10) rotate(-90)" font-size="15" letter-spacing="0.37">IL-6 (pg/mL)</text>
<rect x="319.50" y="298.60" width="12.2" height="11.8" fill="#ffffff" stroke="#1a1a1a" stroke-width="1.2"/>
<text transform="translate(338.30,309.70)" font-size="15">Wt</text>
<rect x="319.50" y="316.90" width="12.2" height="11.8" fill="#a0a0a0" stroke="#1a1a1a" stroke-width="1.2"/>
<text transform="translate(338.30,328.00)" font-size="15">Jak3</text>
<text transform="translate(370.70,325.10)" font-size="8.8">-/-</text>
<rect x="319.50" y="335.20" width="12.2" height="11.8" fill="#000000" stroke="#1a1a1a" stroke-width="1.2"/>
<text transform="translate(338.30,346.30)" font-size="15"><tspan style="font-family:&quot;Liberation Serif&quot;,serif">γ</tspan>c</text>
<text transform="translate(352.30,343.40)" font-size="8.8">-/-</text>
<text transform="translate(302.30,521.30) rotate(-60)" font-size="15" letter-spacing="0.35">No stimulus</text>
<text transform="translate(367.70,475.70) rotate(-60)" font-size="15" letter-spacing="0.35">LPS</text>
<text transform="translate(380.00,524.80) rotate(-60)" font-size="15" letter-spacing="0.35">LPS + IFN-<tspan style="font-family:&quot;Liberation Serif&quot;,serif">γ</tspan></text>
<text transform="translate(446.80,480.90) rotate(-60)" font-size="15" letter-spacing="0.35">CpG</text>
<text transform="translate(459.70,527.90) rotate(-60)" font-size="15" letter-spacing="0.35">CpG + IFN-<tspan style="font-family:&quot;Liberation Serif&quot;,serif">γ</tspan></text>
</svg>
</body></html>
